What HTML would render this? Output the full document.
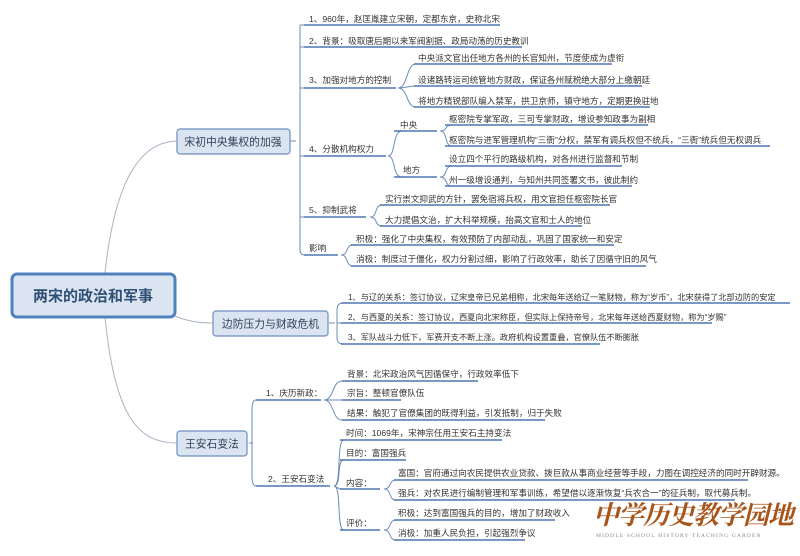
<!DOCTYPE html>
<html><head><meta charset="utf-8"><style>
body{margin:0;background:#fff;width:800px;height:551px;overflow:hidden}
svg text{font-family:"Liberation Sans","Noto Sans CJK SC",sans-serif;font-size:8.6px;fill:#333}
.u{stroke:#4d76b0;stroke-width:1.6;fill:none}
.c{stroke:#6b8cb8;stroke-width:1;fill:none}
.m{stroke:#a9b4c2;stroke-width:1;fill:none}
</style></head><body>
<svg width="800" height="551" xmlns="http://www.w3.org/2000/svg">
<rect x="0" y="0" width="800" height="551" fill="#fff"/>
<path class="m" d="M105 273 C115 180,140 142,177 141"/>
<path class="m" d="M175 316 C190 322,200 323,213 323"/>
<path class="m" d="M105 317 C115 420,140 443,177 443"/>
<rect x="12" y="274" width="163" height="43" rx="5" fill="#dbe5f1" stroke="#4f81bd" stroke-width="3"/>
<text x="93" y="301" text-anchor="middle" style="font-size:15px;font-weight:bold;fill:#2f4f74">两宋的政治和军事</text>
<rect x="177" y="129" width="113" height="25" rx="3" fill="#dbe5f1" stroke="#6c8ebf" stroke-width="1.2"/>
<text x="233" y="145.5" text-anchor="middle" style="font-size:10.8px;fill:#2f3f55">宋初中央集权的加强</text>
<rect x="213" y="311" width="115" height="25" rx="3" fill="#dbe5f1" stroke="#6c8ebf" stroke-width="1.2"/>
<text x="270.5" y="327.5" text-anchor="middle" style="font-size:10.8px;fill:#2f3f55">边防压力与财政危机</text>
<rect x="177" y="431" width="70" height="25" rx="3" fill="#dbe5f1" stroke="#6c8ebf" stroke-width="1.2"/>
<text x="212" y="447.5" text-anchor="middle" style="font-size:10.8px;fill:#2f3f55">王安石变法</text>

<path class="c" d="M290 141 L296 141 M300 25 L300 250 Q300 255 305 255 M300 25 Q300 25 305 25 M300 47 L305 47 M300 88 L305 88 M300 156 L305 156 M300 217 L305 217"/>
<text x="309" y="22">1、960年，赵匡胤建立宋朝，定都东京，史称北宋</text><line class="u" x1="304" y1="25" x2="500" y2="25"/>
<text x="309" y="44">2、背景：吸取唐后期以来军阀割据、政局动荡的历史教训</text><line class="u" x1="304" y1="47" x2="522" y2="47"/>
<text x="309" y="83">3、加强对地方的控制</text><line class="u" x1="304" y1="88" x2="396" y2="88"/>
<path class="c" d="M398 88 C408 88,406 64,416 64 M398 88 C406 88,408 86,416 86 M398 88 C408 88,406 107,416 107"/>
<text x="418" y="61">中央派文官出任地方各州的长官知州，节度使成为虚衔</text><line class="u" x1="414" y1="64" x2="612" y2="64"/>
<text x="418" y="83">设诸路转运司统管地方财政，保证各州赋税绝大部分上缴朝廷</text><line class="u" x1="414" y1="86" x2="642" y2="86"/>
<text x="418" y="104">将地方精锐部队编入禁军，拱卫京师，镇守地方，定期更换驻地</text><line class="u" x1="414" y1="107" x2="650" y2="107"/>

<text x="309" y="152">4、分散机构权力</text><line class="u" x1="304" y1="156" x2="386" y2="156"/>
<path class="c" d="M388 156 C396 156,392 131,402 131 M388 156 C396 156,392 177,402 177"/>
<text x="400" y="128">中央</text><line class="u" x1="394" y1="131" x2="437" y2="131"/>
<text x="403" y="173">地方</text><line class="u" x1="394" y1="177" x2="437" y2="177"/>
<path class="c" d="M440 131 C448 131,444 125,452 125 M440 131 C448 131,444 146,452 146 M440 177 C448 177,444 166,452 166 M440 177 C448 177,444 186,452 186"/>
<text x="449" y="122">枢密院专掌军政，三司专掌财政，增设参知政事为副相</text><line class="u" x1="445" y1="125" x2="648" y2="125"/>
<text x="449" y="143">枢密院与进军管理机构“三衙”分权，禁军有调兵权但不统兵，“三衙”统兵但无权调兵</text><line class="u" x1="445" y1="146" x2="770" y2="146"/>
<text x="449" y="162">设立四个平行的路级机构，对各州进行监督和节制</text><line class="u" x1="445" y1="166" x2="622" y2="166"/>
<text x="449" y="183">州一级增设通判，与知州共同签署文书，彼此制约</text><line class="u" x1="445" y1="186" x2="632" y2="186"/>

<text x="309" y="213">5、抑制武将</text><line class="u" x1="304" y1="217" x2="366" y2="217"/>
<path class="c" d="M370 217 C378 217,374 205,382 205 M370 217 C378 217,374 226,382 226"/>
<text x="385" y="202">实行崇文抑武的方针，罢免宿将兵权，用文官担任枢密院长官</text><line class="u" x1="380" y1="205" x2="610" y2="205"/>
<text x="385" y="223">大力提倡文治，扩大科举规模，抬高文官和士人的地位</text><line class="u" x1="380" y1="226" x2="582" y2="226"/>
<text x="309" y="251">影响</text><line class="u" x1="304" y1="255" x2="338" y2="255"/>
<path class="c" d="M341 255 C349 255,345 245,353 245 M341 255 C349 255,345 266,353 266"/>
<text x="356" y="242">积极：强化了中央集权，有效预防了内部动乱，巩固了国家统一和安定</text><line class="u" x1="351" y1="245" x2="614" y2="245"/>
<text x="356" y="262">消极：制度过于僵化，权力分割过细，影响了行政效率，助长了因循守旧的风气</text><line class="u" x1="351" y1="266" x2="646" y2="266"/>

<path class="c" d="M329 323 L335 323 M343 303 Q337 303 337 310 L337 337 Q337 344 343 344 M337 323 L343 323"/>
<g style="font-size:8.2px">
<text x="348" y="300" style="font-size:8.2px">1、与辽的关系：签订协议，辽宋皇帝已兄弟相称，北宋每年送给辽一笔财物，称为“岁币”，北宋获得了北部边防的安定</text><line class="u" x1="341" y1="303" x2="790" y2="303"/>
<text x="348" y="320" style="font-size:8.2px">2、与西夏的关系：签订协议，西夏向北宋称臣，但实际上保持帝号，北宋每年送给西夏财物，称为“岁赐”</text><line class="u" x1="341" y1="323" x2="712" y2="323"/>
<text x="348" y="340" style="font-size:8.2px">3、军队战斗力低下，军费开支不断上涨。政府机构设置重叠，官僚队伍不断膨胀</text><line class="u" x1="341" y1="344" x2="600" y2="344"/>
</g>

<path class="c" d="M249 443 L253 443 M256 400 Q252 400 252 410 L252 476 Q252 486 256 486"/>
<text x="266" y="396">1、庆历新政：</text><line class="u" x1="256" y1="400" x2="321" y2="400"/>
<path class="c" d="M324 400 C334 400,332 381,342 381 M324 400 L342 400 M324 400 C334 400,332 420,342 420"/>
<text x="347" y="377">背景：北宋政治风气因循保守，行政效率低下</text><line class="u" x1="342" y1="381" x2="478" y2="381"/>
<text x="347" y="396">宗旨：整顿官僚队伍</text><line class="u" x1="342" y1="400" x2="401" y2="400"/>
<text x="347" y="416">结果：触犯了官僚集团的既得利益，引发抵制，归于失败</text><line class="u" x1="342" y1="420" x2="545" y2="420"/>

<text x="268" y="482">2、王安石变法</text><line class="u" x1="256" y1="486" x2="330" y2="486"/>
<path class="c" d="M334 486 C342 486,336 440,344 440 M334 486 C342 486,336 460,344 460 M334 486 L340 489 M334 486 C342 486,336 530,344 530"/>
<text x="346" y="436">时间：1069年，宋神宗任用王安石主持变法</text><line class="u" x1="340" y1="440" x2="502" y2="440"/>
<text x="346" y="456">目的：富国强兵</text><line class="u" x1="340" y1="460" x2="406" y2="460"/>
<text x="346" y="486">内容：</text><line class="u" x1="340" y1="489" x2="380" y2="489"/>
<path class="c" d="M384 489 C392 489,388 480,396 480 M384 489 C392 489,388 500,396 500"/>
<text x="398" y="476">富国：官府通过向农民提供农业贷款、拨巨款从事商业经营等手段，力图在调控经济的同时开辟财源。</text><line class="u" x1="394" y1="480" x2="748" y2="480"/>
<text x="398" y="496">强兵：对农民进行编制管理和军事训练，希望借以逐渐恢复“兵农合一”的征兵制，取代募兵制。</text><line class="u" x1="394" y1="500" x2="735" y2="500"/>
<text x="346" y="526">评价：</text><line class="u" x1="340" y1="530" x2="380" y2="530"/>
<path class="c" d="M384 530 C392 530,388 520,396 520 M384 530 C392 530,388 540,396 540"/>
<text x="398" y="516">积极：达到富国强兵的目的，增加了财政收入</text><line class="u" x1="394" y1="520" x2="555" y2="520"/>
<text x="398" y="536">消极：加重人民负担，引起强烈争议</text><line class="u" x1="394" y1="540" x2="525" y2="540"/>

<text x="593" y="524" style="font-family:'Noto Serif CJK SC','Liberation Serif',serif;font-size:26px;font-weight:bold;fill:#a8551c;font-style:italic;letter-spacing:-1px">中学历史教学园地</text>
<text x="596" y="537" style="font-family:'Liberation Serif',serif;font-size:5.6px;fill:#888;letter-spacing:1.1px">MIDDLE SCHOOL HISTORY TEACHING GARDEN</text>
</svg>
</body></html>
